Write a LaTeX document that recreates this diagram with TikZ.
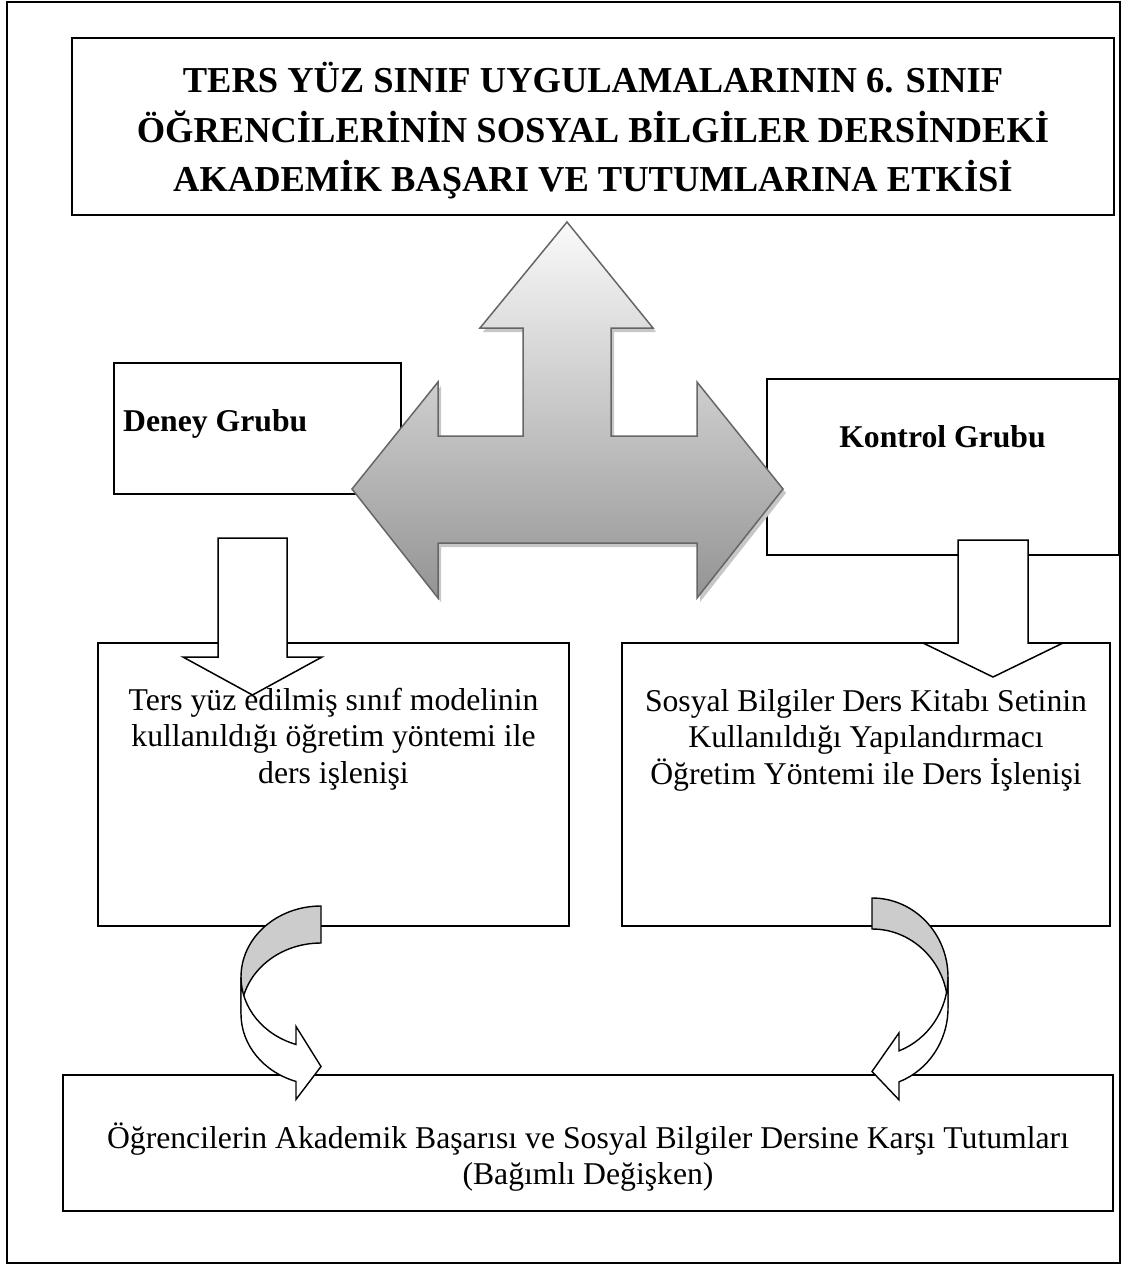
\documentclass[tikz,border=0pt]{standalone}
\usepackage{fontspec}
\setmainfont{Liberation Serif}

% outline of the three-way arrow
\newcommand{\threeway}{(567,222) -- (653,328) -- (611,328) -- (611,436) -- (697,436) -- (697,382) -- (783,489) -- (697,598) -- (697,543) -- (438,543) -- (438,598) -- (352,489) -- (438,382) -- (438,436) -- (523,436) -- (523,328) -- (480,328) -- cycle}

% curved arrow: #1,#2 outer side, #3 direction, #4 width, #5 half height, #6 band, #7 head length, #8 head width
\newcommand{\bentarrow}[8]{%
  \begin{scope}[shift={(#1,#2)}, xscale=#3]
    \pgfmathsetmacro\bw{#4}
    \pgfmathsetmacro\hr{#5}
    \pgfmathsetmacro\th{#6}
    \pgfmathsetmacro\ta{acos(-#7/#4)}
    \pgfmathsetmacro\dy{#5*sqrt(1-(#7/#4)^2)}
    \pgfmathsetmacro\xa{#4-#7}
    \pgfmathsetmacro\dh{(#8-#6)/2}
    \draw[backband] (\bw,0) arc[start angle=-90, end angle=-180, x radius=\bw, y radius=\hr]
      -- (0,\hr+\th) arc[start angle=180, end angle=270, x radius=\bw, y radius=\hr] -- cycle;
    \draw[frontband] (0,\hr) arc[start angle=180, end angle=\ta, x radius=\bw, y radius=\hr]
      -- (\xa,\hr+\dy-\dh) -- (\bw,2*\hr+\th/2) -- (\xa,\hr+\dy+\th+\dh) -- (\xa,\hr+\dy+\th)
      arc[start angle=\ta, end angle=180, x radius=\bw, y radius=\hr] -- cycle;
  \end{scope}}

\begin{document}
\begin{tikzpicture}[x=1pt, y=-1pt,
    box/.style={draw, line width=2pt, inner sep=0pt},
    bodytext/.style={inner sep=0pt, align=center, font=\fontsize{31.7}{36.5}\selectfont},
    titletext/.style={inner sep=0pt, align=center, font=\fontsize{36.5}{49.5}\selectfont\bfseries},
    blockarrow/.style={draw, fill=white, line width=1.5pt, line join=miter},
    backband/.style={draw, fill=black!20, line width=1.4pt},
    frontband/.style={draw, fill=white, line width=1.4pt}]
  \useasboundingbox (0,0) rectangle (1125,1265);

  % Frame and boxes
  \node[box, minimum width=1113pt, minimum height=1261pt] (frame) at (563.5,632.5) {};
  \node[box, minimum width=1042pt, minimum height=177pt] (titlebox) at (593,126.5) {};
  \node[box, minimum width=287pt, minimum height=131pt] (deneybox) at (257.5,428.5) {};
  \node[box, minimum width=352pt, minimum height=176pt] (kontrolbox) at (943,467) {};
  \node[box, minimum width=471pt, minimum height=283pt] (deneymid) at (333.5,784.5) {};
  \node[box, minimum width=488pt, minimum height=283pt] (kontrolmid) at (866,784.5) {};
  \node[box, minimum width=1050pt, minimum height=136pt] (result) at (588,1143) {};

  % Three-way arrow
  \fill[black!22, shift={(3,4)}] \threeway;
  \shadedraw[top color=black!2, bottom color=black!42, draw=black!60, line width=1.5pt] \threeway;

  % Down arrows
  \draw[blockarrow] (218,538) -- (287,538) -- (287,657) -- (322,657) -- (252.5,695)
    -- (183,657) -- (218,657) -- cycle;
  \draw[blockarrow] (958,540) -- (1028,540) -- (1028,643) -- (1063,643) -- (993,677)
    -- (923,643) -- (958,643) -- cycle;

  % Curved arrows
  \bentarrow{241}{906}{1}{80}{71}{37}{25}{73}
  \bentarrow{948}{898}{-1}{76}{79}{31}{27}{67}

  % Texts
  \node[titletext] (title) at (593,131) {TERS YÜZ SINIF UYGULAMALARININ 6. SINIF\\ÖĞRENCİLERİNİN SOSYAL BİLGİLER DERSİNDEKİ\\AKADEMİK BAŞARI VE TUTUMLARINA ETKİSİ};
  \node[bodytext, anchor=base west, font=\fontsize{31.7}{36.5}\selectfont\bfseries] (deney) at (123,431) {Deney Grubu};
  \node[bodytext, anchor=base, font=\fontsize{31.7}{36.5}\selectfont\bfseries] (kontrol) at (942.5,447) {Kontrol Grubu};
  \node[bodytext] (deneyyol) at (333.5,739) {Ters yüz edilmiş sınıf modelinin\\kullanıldığı öğretim yöntemi ile\\ders işlenişi};
  \node[bodytext] (kontrolyol) at (866,740) {Sosyal Bilgiler Ders Kitabı Setinin\\Kullanıldığı Yapılandırmacı\\Öğretim Yöntemi ile Ders İşlenişi};
  \node[bodytext] (sonuc) at (588,1157) {Öğrencilerin Akademik Başarısı ve Sosyal Bilgiler Dersine Karşı Tutumları\\(Bağımlı Değişken)};
\end{tikzpicture}
\end{document}
